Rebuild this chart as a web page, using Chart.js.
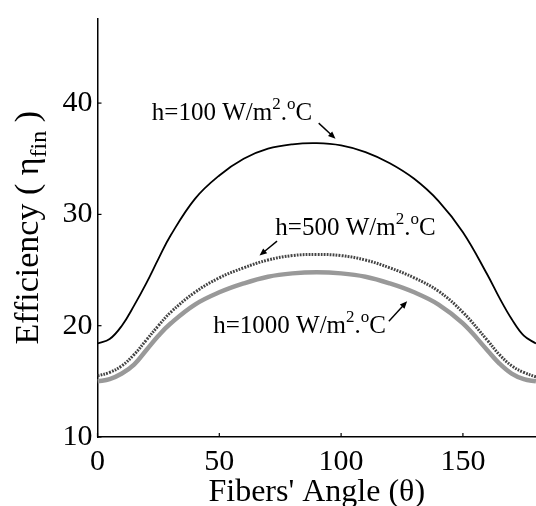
<!DOCTYPE html>
<html>
<head>
<meta charset="utf-8">
<script src="https://cdn.jsdelivr.net/npm/chart.js@4.4.0/dist/chart.umd.min.js"></script>
<style>
  html, body { margin: 0; padding: 0; background: #fff; }
  #wrap { width: 536px; height: 506px; }
</style>
</head>
<body>
<div id="wrap"><canvas id="effChart" width="536" height="506"></canvas></div>
<script>
// fiber angle (deg)
var angles  = [0, 5, 10, 15, 20, 25, 30, 40, 50, 60, 70, 80, 90, 100, 110, 120, 130, 140, 150, 160, 165, 170, 175, 180];
// fin efficiency for each h
var eff100  = [18.4, 18.8, 20.0, 21.8, 23.8, 26.0, 28.1, 31.4, 33.5, 35.0, 35.9, 36.3, 36.4, 36.2, 35.6, 34.6, 33.2, 31.2, 28.4, 24.6, 22.5, 20.6, 19.1, 18.4];
var eff500  = [15.5, 15.8, 16.4, 17.4, 18.7, 20.0, 21.2, 23.0, 24.3, 25.2, 25.9, 26.3, 26.4, 26.3, 25.9, 25.2, 24.3, 23.1, 21.2, 18.7, 17.4, 16.4, 15.8, 15.4];
var eff1000 = [15.0, 15.2, 15.7, 16.5, 17.8, 19.1, 20.2, 21.9, 23.0, 23.8, 24.4, 24.7, 24.8, 24.7, 24.4, 23.8, 23.0, 21.9, 20.2, 17.8, 16.6, 15.7, 15.2, 15.0];
var hLabels = ['h=100', 'h=500', 'h=1000'];
var xTicks = [0, 50, 100, 150];
var yTicks = [10, 20, 30, 40];

var SERIF = '"Liberation Serif", "Times New Roman", serif';

function toPoints(ys) {
    return angles.map(function (a, i) { return { x: a, y: ys[i] }; });
}

// h=... W/m^2.^oC with superscripts
function drawUnitLabel(ctx, x, y, hText) {
    var parts = [[hText + ' W/m', false], ['2', true], ['.', false], ['o', true], ['C', false]];
    ctx.textBaseline = 'alphabetic';
    ctx.textAlign = 'left';
    parts.forEach(function (p) {
        ctx.font = (p[1] ? '17px ' : '25px ') + SERIF;
        ctx.fillText(p[0], x, p[1] ? y - 11 : y);
        x += ctx.measureText(p[0]).width;
    });
}

function drawArrow(ctx, x1, y1, x2, y2) {
    var ang = Math.atan2(y2 - y1, x2 - x1);
    var len = 8;
    ctx.beginPath();
    ctx.moveTo(x1, y1);
    ctx.lineTo(x2 - Math.cos(ang) * 4, y2 - Math.sin(ang) * 4);
    ctx.stroke();
    ctx.beginPath();
    ctx.moveTo(x2, y2);
    ctx.lineTo(x2 - len * Math.cos(ang - 0.4), y2 - len * Math.sin(ang - 0.4));
    ctx.lineTo(x2 - len * Math.cos(ang + 0.4), y2 - len * Math.sin(ang + 0.4));
    ctx.closePath();
    ctx.fill();
}

var decorPlugin = {
    id: 'decor',
    afterDraw: function (chart) {
        var ctx = chart.ctx;
        var xs = chart.scales.x, ys = chart.scales.y;
        var area = chart.chartArea;
        ctx.save();
        ctx.strokeStyle = '#000';
        ctx.fillStyle = '#000';

        // inward tick marks
        ctx.lineWidth = 1.2;
        xs.ticks.forEach(function (t) {
            var px = xs.getPixelForValue(t.value);
            ctx.beginPath(); ctx.moveTo(px, area.bottom); ctx.lineTo(px, area.bottom - 4); ctx.stroke();
        });
        ys.ticks.forEach(function (t) {
            var py = ys.getPixelForValue(t.value);
            ctx.beginPath(); ctx.moveTo(area.left, py); ctx.lineTo(area.left + 4, py); ctx.stroke();
        });

        // curve labels and arrows (data coordinates)
        var labelPos = [[22.3, 38.5], [73.0, 28.15], [47.5, 19.37]];
        hLabels.forEach(function (h, i) {
            drawUnitLabel(ctx, xs.getPixelForValue(labelPos[i][0]), ys.getPixelForValue(labelPos[i][1]), h);
        });
        var arrows = [[90.8, 38.2, 97.7, 36.8], [73.7, 27.6, 66.5, 26.3], [119.6, 20.4, 127.1, 22.2]];
        ctx.lineWidth = 1.4;
        arrows.forEach(function (a) {
            drawArrow(ctx, xs.getPixelForValue(a[0]), ys.getPixelForValue(a[1]),
                xs.getPixelForValue(a[2]), ys.getPixelForValue(a[3]));
        });

        // x axis title
        ctx.font = '32px ' + SERIF;
        ctx.textAlign = 'center';
        ctx.textBaseline = 'alphabetic';
        ctx.fillText("Fibers' Angle (\u03b8)", (area.left + area.right) / 2, 501);

        // y axis title, rotated, with subscript
        var big = '34px ' + SERIF, small = '24px ' + SERIF;
        var segs = [['Efficiency ( \u03b7', big, 0], ['fin', small, 8], [' )', big, 0]];
        var total = 0;
        segs.forEach(function (s) { ctx.font = s[1]; total += ctx.measureText(s[0]).width; });
        ctx.translate(38, (area.top + area.bottom) / 2);
        ctx.rotate(-Math.PI / 2);
        ctx.textAlign = 'left';
        var cx = -total / 2;
        segs.forEach(function (s) {
            ctx.font = s[1];
            ctx.fillText(s[0], cx, s[2]);
            cx += ctx.measureText(s[0]).width;
        });
        ctx.restore();
    }
};

var ctx = document.getElementById('effChart');
var effChart = new Chart(ctx, {
    type: 'line',
    data: {
        datasets: [{
            label: 'h=100',
            data: toPoints(eff100),
            borderColor: '#000',
            borderWidth: 1.8,
            tension: 0.4
        }, {
            label: 'h=500',
            data: toPoints(eff500),
            borderColor: '#444',
            borderWidth: 3,
            borderDash: [1.8, 1.2],
            tension: 0.4
        }, {
            label: 'h=1000',
            data: toPoints(eff1000),
            borderColor: '#999',
            borderWidth: 4.5,
            tension: 0.4
        }]
    },
    options: {
        responsive: false,
        animation: false,
        layout: { padding: { top: 14, right: 0, left: 0, bottom: 0 } },
        elements: { point: { radius: 0 } },
        plugins: { legend: { display: false }, tooltip: { enabled: false } },
        scales: {
            x: {
                type: 'linear',
                min: 0,
                max: 180,
                afterBuildTicks: function (scale) { scale.ticks = xTicks.map(function (v) { return { value: v }; }); },
                afterFit: function (scale) { scale.height = 69; },
                grid: { display: true, drawOnChartArea: false, drawTicks: false },
                border: { display: true, color: '#000', width: 1.5 },
                ticks: { color: '#000', font: { family: SERIF, size: 30 }, padding: 7, maxRotation: 0, autoSkip: false }
            },
            y: {
                min: 10,
                max: 47.6,
                afterBuildTicks: function (scale) { scale.ticks = yTicks.map(function (v) { return { value: v }; }); },
                afterFit: function (scale) { scale.width = 97.5; },
                grid: { display: true, drawOnChartArea: false, drawTicks: false },
                border: { display: true, color: '#000', width: 1.5 },
                ticks: { color: '#000', font: { family: SERIF, size: 30, lineHeight: 0.9 }, padding: 5 }
            }
        }
    },
    plugins: [decorPlugin]
});
</script>
</body>
</html>
